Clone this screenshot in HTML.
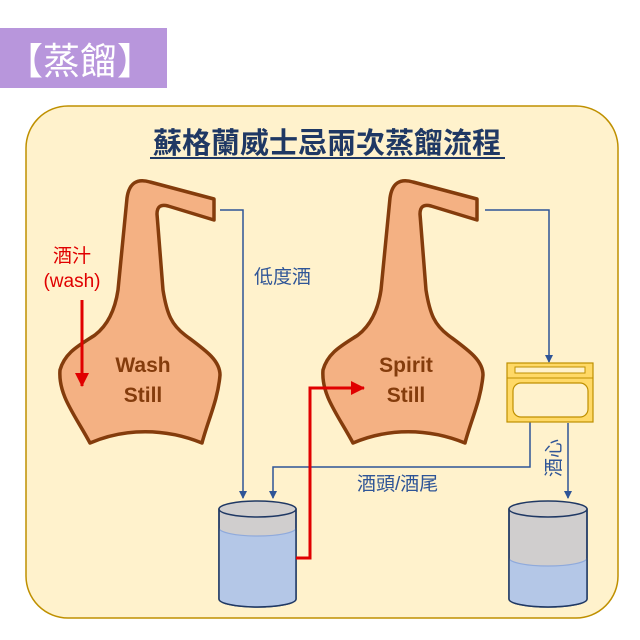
<!DOCTYPE html>
<html><head><meta charset="utf-8"><style>
html,body{margin:0;padding:0;background:#fff;}
svg{display:block;}
text{font-family:"Liberation Sans","Noto Sans CJK TC",sans-serif;}
</style></head><body>
<svg width="640" height="640" viewBox="0 0 640 640" xmlns="http://www.w3.org/2000/svg">
<defs>
<marker id="ab" markerWidth="8" markerHeight="8" refX="7" refY="4" orient="auto" markerUnits="userSpaceOnUse"><path d="M0,0 L8,4 L0,8 z" fill="#2f5597"/></marker>
<marker id="ar" markerWidth="14" markerHeight="14" refX="13" refY="7" orient="auto" markerUnits="userSpaceOnUse"><path d="M0,0 L14,7 L0,14 z" fill="#e00000"/></marker>
<g id="still">
<path d="M90 443 C 75 415, 58 395, 60 370 C 65 352, 80 345, 95 335 C 108 325, 115 310, 118 290 L 127 198 Q 130 176 150 182 L 214 199 L 214 220 L 168 206 Q 157 203 157 214 L 163 290 C 167 315, 172 325, 185 335 C 205 350, 220 360, 220 375 C 218 400, 208 420, 202 443 C 165 428, 125 428, 90 443 Z" fill="#f4b183" stroke="#843c0c" stroke-width="3.5" stroke-linejoin="round"/>
</g>
</defs>
<rect x="0" y="28" width="167" height="60" fill="#b896dc"/>
<text x="80" y="74" font-size="37" fill="#fff" text-anchor="middle">【蒸餾】</text>
<rect x="26" y="106" width="592" height="512" rx="42" fill="#fff2cc" stroke="#bf9000" stroke-width="1.5"/>
<text x="327" y="153" font-size="29" fill="#1f3864" text-anchor="middle" font-weight="bold">蘇格蘭威士忌兩次蒸餾流程</text>
<line x1="150" y1="158" x2="505" y2="158" stroke="#1f3864" stroke-width="2"/>
<use href="#still"/>
<use href="#still" x="263"/>
<g font-size="21" fill="#843c0c" text-anchor="middle" font-weight="bold">
<text x="143" y="372">Wash</text>
<text x="143" y="402">Still</text>
<text x="406" y="372">Spirit</text>
<text x="406" y="402">Still</text>
</g>
<text x="72" y="262" font-size="19" fill="#e00000" text-anchor="middle">酒汁</text>
<text x="72" y="287" font-size="19" fill="#e00000" text-anchor="middle">(wash)</text>
<line x1="82" y1="300" x2="82" y2="386" stroke="#e00000" stroke-width="3" marker-end="url(#ar)"/>
<g fill="none" stroke="#2f5597" stroke-width="1.5">
<polyline points="220,210 243,210 243,498" marker-end="url(#ab)"/>
<polyline points="485,210 549,210 549,362" marker-end="url(#ab)"/>
<polyline points="530,422 530,467 273,467 273,498" marker-end="url(#ab)"/>
<polyline points="568,423 568,498" marker-end="url(#ab)"/>
</g>
<text x="254" y="283" font-size="19" fill="#2f5597">低度酒</text>
<text x="357" y="490" font-size="19" fill="#2f5597">酒頭/酒尾</text>
<text transform="translate(560,458) rotate(-90)" font-size="19" fill="#2f5597" text-anchor="middle">酒心</text>
<rect x="507" y="363" width="86" height="59" fill="#ffd966" stroke="#bf9000" stroke-width="1.2"/>
<line x1="507" y1="378" x2="593" y2="378" stroke="#bf9000" stroke-width="1"/>
<rect x="515" y="367" width="70" height="6" fill="#fff2cc" stroke="#bf9000" stroke-width="1"/>
<rect x="513" y="383" width="75" height="34" rx="8" fill="#fff2cc" stroke="#bf9000" stroke-width="1.2"/>
<g stroke="#1f3864" stroke-width="1.5">
<path d="M219 509 L219 599 A38.5 8 0 0 0 296 599 L296 509 Z" fill="#d0cece"/>
<path d="M219 528 A38.5 8 0 0 0 296 528 L296 599 A38.5 8 0 0 1 219 599 Z" fill="#b4c7e7" stroke="none"/>
<path d="M219 528 A38.5 8 0 0 0 296 528" fill="none" stroke="#8faadc" stroke-width="1.2"/>
<path d="M219 509 L219 599 A38.5 8 0 0 0 296 599 L296 509" fill="none"/>
<ellipse cx="257.5" cy="509" rx="38.5" ry="8" fill="#d0cece"/>
<path d="M509 509 L509 599 A39 8 0 0 0 587 599 L587 509 Z" fill="#d0cece"/>
<path d="M509 558 A39 8 0 0 0 587 558 L587 599 A39 8 0 0 1 509 599 Z" fill="#b4c7e7" stroke="none"/>
<path d="M509 558 A39 8 0 0 0 587 558" fill="none" stroke="#8faadc" stroke-width="1.2"/>
<path d="M509 509 L509 599 A39 8 0 0 0 587 599 L587 509" fill="none"/>
<ellipse cx="548" cy="509" rx="39" ry="8" fill="#d0cece"/>
</g>
<polyline points="296,558 310,558 310,388 364,388" fill="none" stroke="#e00000" stroke-width="3" marker-end="url(#ar)"/>
</svg>
</body></html>
